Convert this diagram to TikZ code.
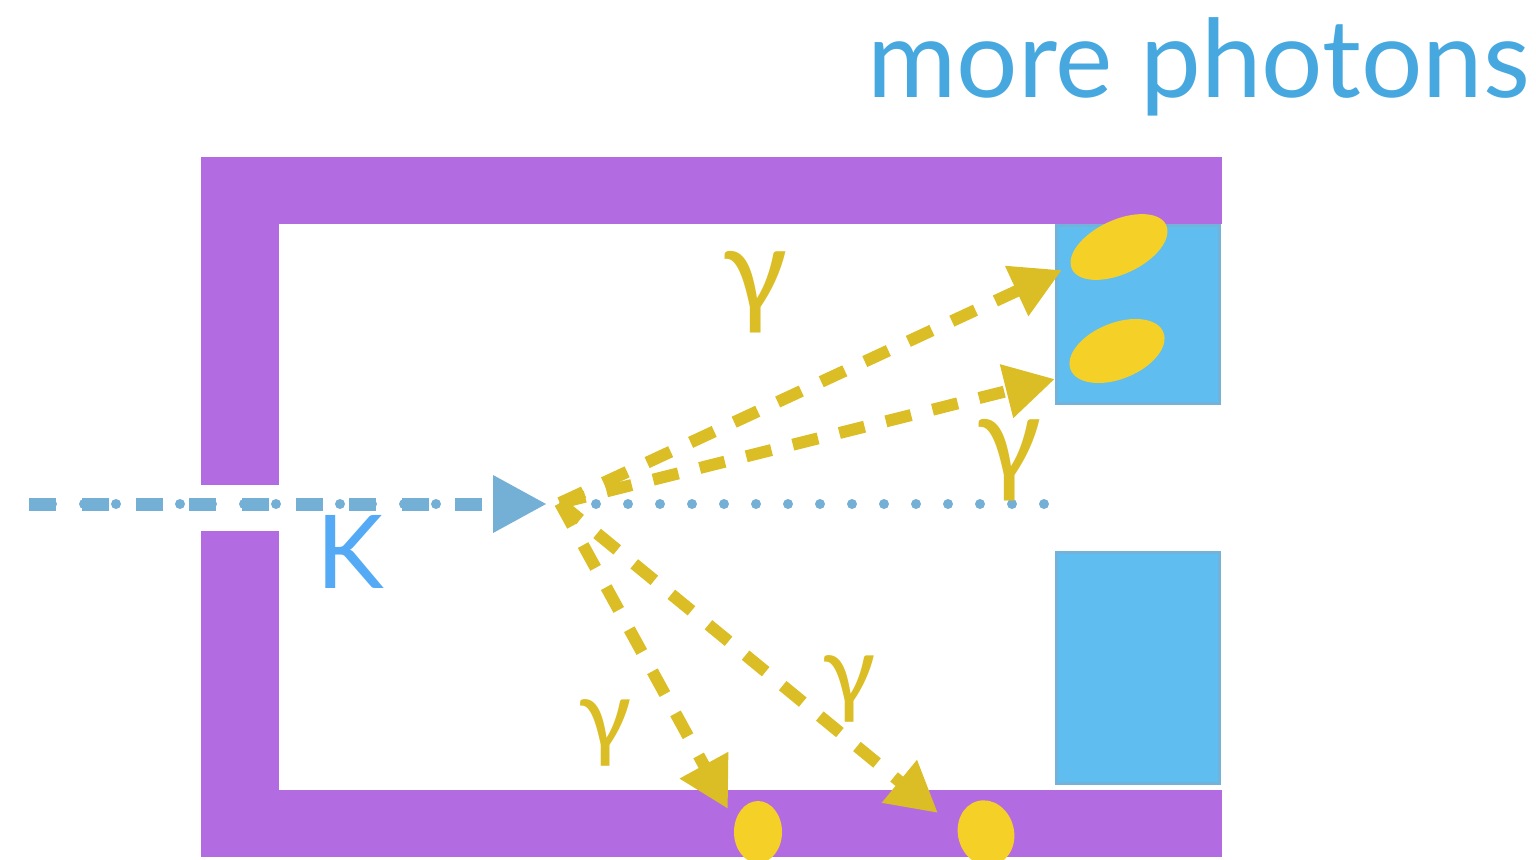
\documentclass[tikz,border=0pt]{standalone}
\usepackage{fontspec}
\setmainfont{Lato}
\usetikzlibrary{arrows.meta}
\definecolor{purp}{HTML}{B36BE2}
\definecolor{detblue}{HTML}{5FBDF0}
\definecolor{detedge}{HTML}{72B3DB}
\definecolor{ylwfill}{HTML}{F5D128}
\definecolor{ylw}{HTML}{DBBD25}
\definecolor{beamblue}{HTML}{74B0D6}
\definecolor{kblue}{HTML}{55AAF5}
\definecolor{titleblue}{HTML}{47A8E0}
\tikzset{
  wall/.style={fill=purp},
  detector/.style={fill=detblue, draw=detedge, line width=3pt},
  hit/.style={fill=ylwfill},
  photon/.style={draw=ylw, line width=12pt, dash pattern=on 26pt off 22pt,
    -{Triangle[length=50pt,width=52pt]}},
  gammalbl/.style={text=ylw, inner sep=0pt, font=\fontsize{120}{120}\selectfont},
  gammasmall/.style={gammalbl, font=\fontsize{98}{98}\selectfont},
  beamdash/.style={draw=beamblue, line width=13pt, dash pattern=on 27pt off 26.3pt,
    -{Triangle[length=54pt,width=54pt]}},
  beamdot/.style={draw=beamblue, line width=10pt, line cap=round, dash pattern=on 0pt off 32pt}
}
\begin{document}
\begin{tikzpicture}[x=1pt,y=-1pt]
\useasboundingbox (0,0) rectangle (1536,859);
% walls
\fill[wall] (201,157) rectangle (1222,224);
\fill[wall] (201,224) rectangle (279,485);
\fill[wall] (201,531) rectangle (279,790);
\fill[wall] (201,790) rectangle (1222,857);
% detectors
\path[detector] (1056,225) rectangle (1219,403);
\path[detector] (1056,552) rectangle (1219,783);
% hits
\fill[hit] (1119,247) ellipse [x radius=52, y radius=27, rotate=25];
\fill[hit] (1117,351) ellipse [x radius=50, y radius=28, rotate=22];
\fill[hit] (758,832) ellipse [x radius=24, y radius=31];
\fill[hit] (986,833) ellipse [x radius=28, y radius=33, rotate=15];
% beam
\coordinate (kin) at (29,504);
\coordinate (v) at (547,504);
\coordinate (dstart) at (52,504);
\coordinate (dend) at (1047,504);
\draw[beamdot] (dstart) -- (dend);
\draw[beamdash] (kin) -- (v);
\node[text=kblue, inner sep=0pt, anchor=base west, font=\fontsize{102}{102}\selectfont] (K) at (316,588) {K};
% photons
\coordinate (o) at (560,503);
\coordinate (t1) at (1062,270);
\coordinate (t2) at (1055,379);
\coordinate (t3) at (728,809);
\coordinate (t4) at (938,813);
\draw[photon] (o) -- (t1);
\draw[photon] (o) -- (t2);
\draw[photon] (o) -- (t3);
\draw[photon] (o) -- (t4);
\node[gammalbl] (g1) at (755,292) {γ};
\node[gammalbl] (g2) at (1009,460) {γ};
\node[gammasmall] (g3) at (605,733) {γ};
\node[gammasmall] (g4) at (849,689) {γ};
% title
\node[text=titleblue, inner sep=0pt, anchor=base west, font=\fontsize{108.5}{110}\selectfont] (title) at (867,97) {more photons};
\end{tikzpicture}
\end{document}
